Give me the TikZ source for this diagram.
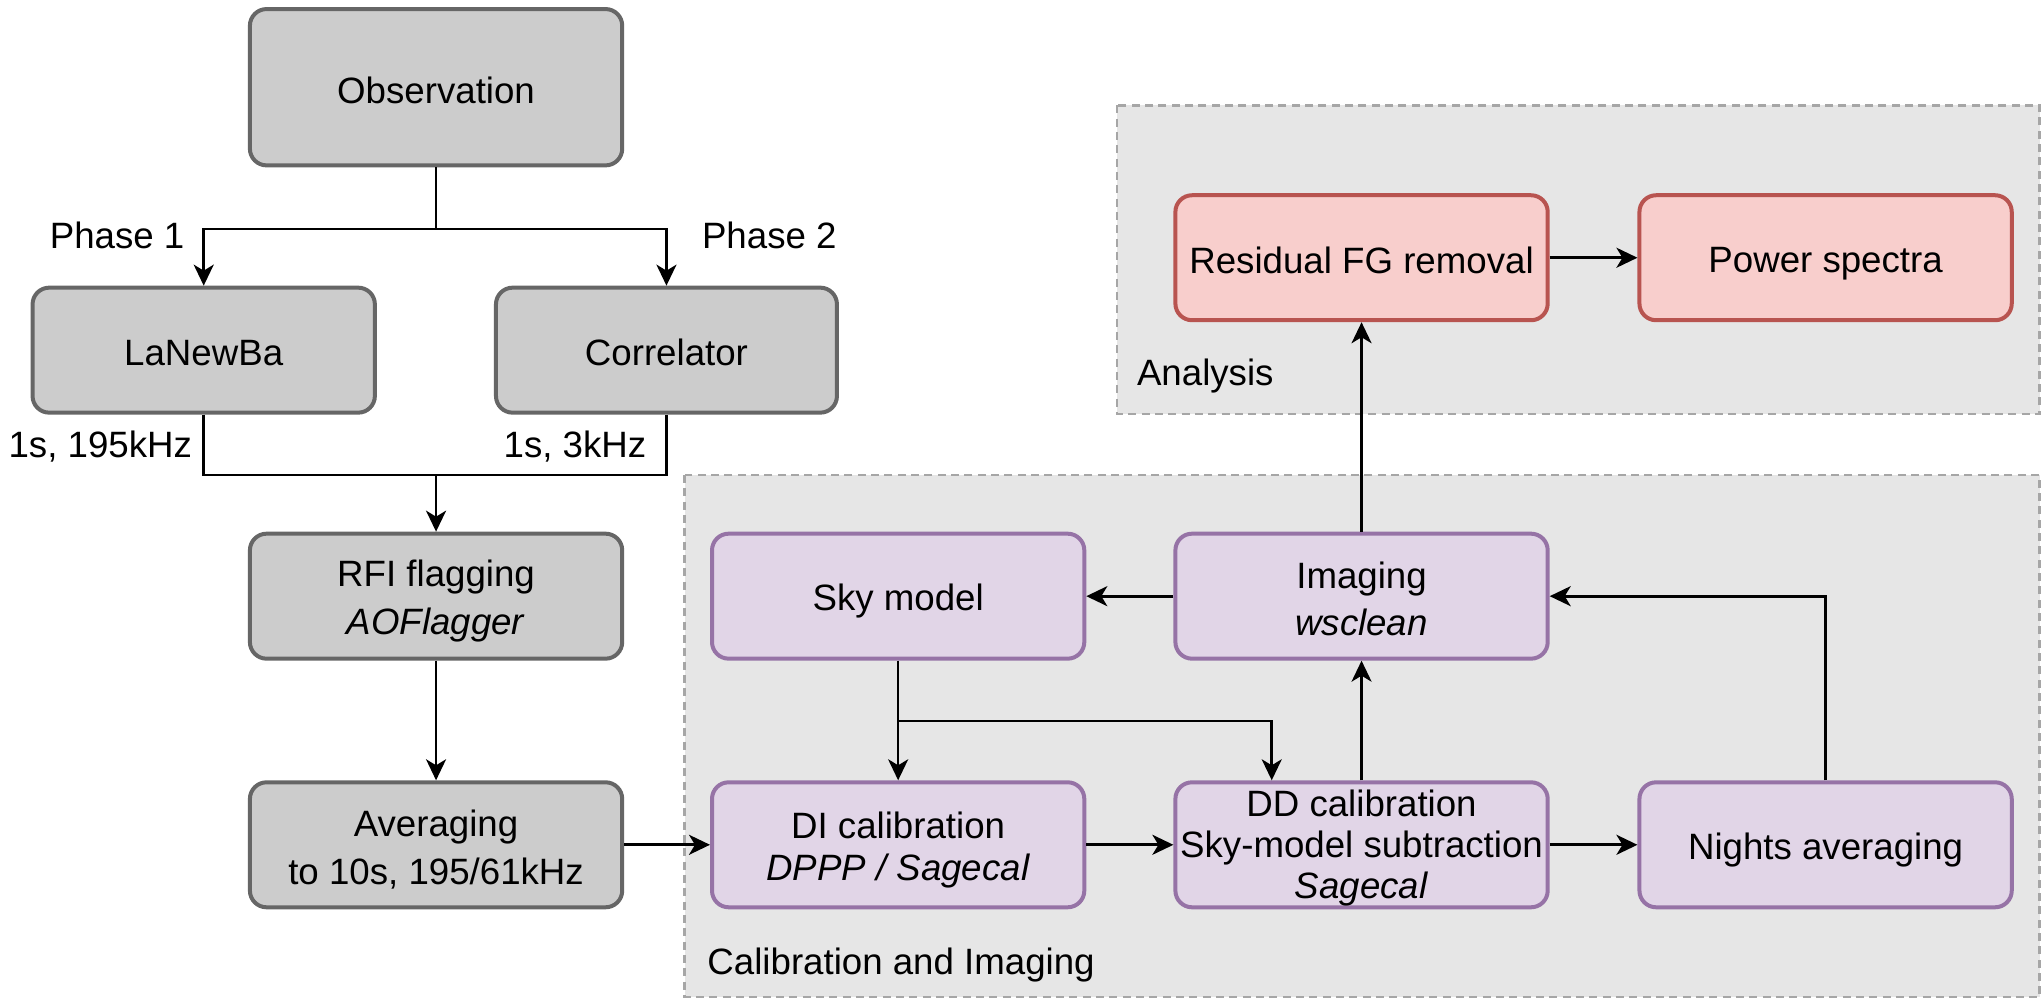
\documentclass[tikz,border=0pt]{standalone}
\usepackage{fontspec}
\setmainfont{Liberation Sans}
\usetikzlibrary{arrows.meta}

\definecolor{grayfill}{HTML}{CCCCCC}
\definecolor{graydraw}{HTML}{666666}
\definecolor{purfill}{HTML}{E1D5E7}
\definecolor{purdraw}{HTML}{9673A6}
\definecolor{redfill}{HTML}{F8CECC}
\definecolor{reddraw}{HTML}{B85450}
\definecolor{grpfill}{HTML}{E6E6E6}
\definecolor{grpdraw}{HTML}{A6A6A6}

% every line inside a box gets the same strut, so text blocks sit centred
\newcommand{\ls}{\rule[-1.5pt]{0pt}{12.5pt}}
% tighter strut for the three-line box, so it keeps its height
\newcommand{\lsd}{\rule[-1.0pt]{0pt}{11pt}}

\tikzset{
  txt/.style={font=\fontsize{11}{12.5}\selectfont, align=center},
  box/.style={txt, rectangle, rounded corners=5pt, line width=1.2pt, inner sep=0pt,
    minimum width=111.7pt, minimum height=37.5pt},
  graybox/.style={box, fill=grayfill, draw=graydraw},
  purbox/.style={box, fill=purfill, draw=purdraw},
  redbox/.style={box, fill=redfill, draw=reddraw},
  group/.style={fill=grpfill, draw=grpdraw, line width=0.8pt, dash pattern=on 2.4pt off 1.6pt},
  arr/.style={line width=0.8pt, -{Stealth[length=6.3pt, width=6pt, inset=1.8pt]}},
  link/.style={line width=0.8pt},
}

\begin{document}
\begin{tikzpicture}[x=0.39052pt, y=-0.39052pt]
\useasboundingbox (0,0) rectangle (1568,767);
\fill[white] (0,0) rectangle (1568,767);

% stage groups
\draw[group] (858,81) rectangle (1567,318);
\draw[group] (526,365) rectangle (1567,766);
\node[txt, anchor=west, inner sep=0pt] (lblana) at (873,289) {Analysis};
\node[txt, anchor=west, inner sep=0pt] (lblcal) at (543,741) {Calibration and Imaging};

% pre-processing chain
\node[graybox, minimum height=46.9pt] (obs) at (335,67) {\ls Observation};
\node[graybox, minimum width=102.7pt] (lan) at (156.5,269) {\ls LaNewBa};
\node[graybox, minimum width=102.3pt] (cor) at (512,269) {\ls Correlator};
\node[graybox] (rfi) at (335,458) {\ls RFI flagging\\\ls\textit{AOFlagger}};
\node[graybox] (avg) at (335,649) {\ls Averaging\\\ls to 10s, 195/61kHz};

% calibration and imaging
\node[purbox] (sky) at (690,458) {\ls Sky model};
\node[purbox] (img) at (1046,458) {\ls Imaging\\\ls\textit{wsclean}};
\node[purbox] (di) at (690,649) {\ls DI calibration\\\ls\textit{DPPP / Sagecal}};
\node[purbox, font=\fontsize{11}{12.3}\selectfont] (dd) at (1046,649)
  {\lsd DD calibration\\\lsd Sky-model subtraction\\\lsd\textit{Sagecal}};
\node[purbox] (nights) at (1402.5,649) {\ls Nights averaging};

% analysis
\node[redbox] (res) at (1046,198) {\ls Residual FG removal};
\node[redbox] (pow) at (1402.5,198) {\ls Power spectra};

% labels on the branches
\node[txt] (ph1) at (90,181) {Phase 1};
\node[txt] (ph2) at (591,181) {Phase 2};
\node[txt, anchor=east, inner sep=0pt] (r1) at (148,343) {1s, 195kHz};
\node[txt, anchor=east, inner sep=0pt] (r2) at (497,343) {1s, 3kHz};

% connectors
\coordinate (split) at (335,176);
\coordinate (merge) at (335,365);
\coordinate (skyb) at (690,554);
\coordinate (tapx) at (977,554);

\draw[link] (obs.south) -- (split);
\draw[arr] (split) -| (lan.north);
\draw[arr] (split) -| (cor.north);
\draw[link] (lan.south) |- (merge);
\draw[link] (cor.south) |- (merge);
\draw[arr] (merge) -- (rfi.north);
\draw[arr] (rfi) -- (avg);
\draw[arr] (avg) -- (di);
\draw[arr] (sky) -- (di);
\draw[arr] (skyb) -| (tapx |- dd.north);
\draw[arr] (di) -- (dd);
\draw[arr] (dd) -- (nights);
\draw[arr] (dd) -- (img);
\draw[arr] (nights.north) |- (img.east);
\draw[arr] (img) -- (sky);
\draw[arr] (img) -- (res);
\draw[arr] (res) -- (pow);
\end{tikzpicture}
\end{document}
